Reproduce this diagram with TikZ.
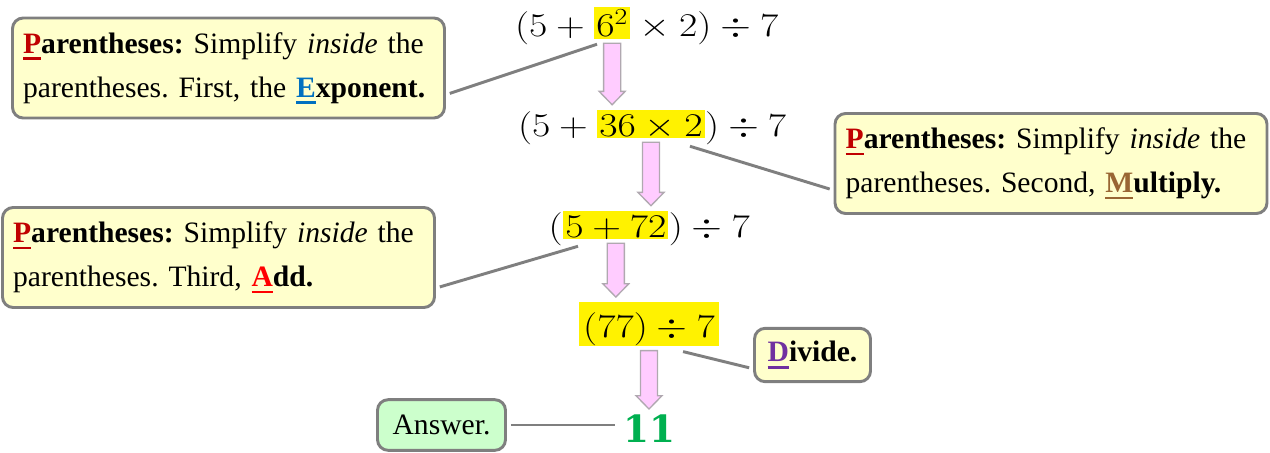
\documentclass[tikz,border=0pt]{standalone}
\usepackage[no-math]{fontspec}
\setmainfont{Liberation Serif}
\newfontfamily\numfont{DejaVu Serif}
\usepackage{graphicx}
\usepackage{tikz}
\usetikzlibrary{positioning,calc}

\definecolor{boxfill}{HTML}{FFFFCC}
\definecolor{ansfill}{HTML}{CCFFCC}
\definecolor{edge}{HTML}{7F7F7F}
\definecolor{pinkfill}{HTML}{FFCCFF}
\definecolor{pinkedge}{HTML}{B0A8B0}
\definecolor{pred}{HTML}{C00000}
\definecolor{eblue}{HTML}{0070C0}
\definecolor{mbrown}{HTML}{996633}
\definecolor{ared}{HTML}{FF0000}
\definecolor{dpurple}{HTML}{7030A0}
\definecolor{agreen}{HTML}{00B050}

% coloured, underlined first letter
\newcommand\capletter[2]{\textcolor{#1}{\setbox0\hbox{\textbf{#2}}\rlap{\rule[-5pt]{\wd0}{2pt}}\box0}}
\newcommand\wide[1]{\scalebox{1.2}[1]{#1}}
\frenchspacing

\begin{document}
\begin{tikzpicture}[
    x=0.75pt, y=-0.75pt,
    callout/.style={rectangle, draw=edge, line width=2.2pt, fill=boxfill, rounded corners=8pt, font=\fontsize{22.2}{33}\selectfont},
    note/.style={callout, align=left, text width=308pt, inner xsep=8pt, minimum width=324pt, minimum height=75pt},
    tag/.style={callout, inner sep=5pt, minimum width=87pt, minimum height=40pt},
    expr/.style={inner sep=0pt, font=\fontsize{27}{34}\selectfont},
    hl/.style={expr, fill=yellow, inner xsep=1.5pt, text height=19.5pt, text depth=1.5pt},
    link/.style={draw=edge, line width=2.2pt, shorten <=3pt},
    blockarrow/.style={draw=pinkedge, fill=pinkfill, line width=1pt}
]
\useasboundingbox (0,0) rectangle (1270,453);

% expressions
\node[hl, anchor=base west, text height=22.5pt] (hl1) at (594,37) {\wide{$6^2$}};
\node[expr, anchor=base east] (e1a) at (hl1.base west) {\wide{$(5+{}$}};
\node[expr, anchor=base west] (e1b) at (hl1.base east) {\wide{${}\times 2)\div 7$}};

\node[hl, anchor=base west] (hl2) at (597,136) {\wide{$36\times 2$}};
\node[expr, anchor=base east] (e2a) at (hl2.base west) {\wide{$(5+{}$}};
\node[expr, anchor=base west] (e2b) at (hl2.base east) {\wide{$)\div 7$}};

\node[hl, anchor=base west] (hl3) at (563,237) {\wide{$5+72$}};
\node[expr, anchor=base east] (e3a) at (hl3.base west) {\wide{$($}};
\node[expr, anchor=base west] (e3b) at (hl3.base east) {\wide{$)\div 7$}};

\node[expr, fill=yellow, inner xsep=3pt, text height=26pt, text depth=7pt, anchor=base] (e4) at (649,337) {\wide{$(77)\div 7$}};
\node[expr, text=agreen, font=\numfont\bfseries\fontsize{28}{34}\selectfont, anchor=base] (res) at (649,442) {11};

% pink arrows between steps
\foreach \a/\b in {hl1/hl2, hl2/hl3, hl3/e4, e4/res}
  \draw[blockarrow] let \p1=($(\a.south)+(0,4)$), \p2=($(\b.north)+(0,-5)$) in
    (\x1-6.4pt,\y1) -- (\x1+6.4pt,\y1) -- (\x1+6.4pt,\y2+10pt) -- (\x1+9.75pt,\y2+10pt)
    -- (\x1,\y2) -- (\x1-9.75pt,\y2+10pt) -- (\x1-6.4pt,\y2+10pt) -- cycle;

% call-outs
\node[note] (box1) at (228.5,68) {\capletter{pred}{P}\textbf{arentheses:} Simplify \textit{inside} the\\parentheses. First, the \capletter{eblue}{E}\textbf{xponent.}};
\node[note] (box2) at (1051,163.5) {\capletter{pred}{P}\textbf{arentheses:} Simplify \textit{inside} the\\parentheses. Second, \capletter{mbrown}{M}\textbf{ultiply.}};
\node[note] (box3) at (218.5,257.5) {\capletter{pred}{P}\textbf{arentheses:} Simplify \textit{inside} the\\parentheses. Third, \capletter{ared}{A}\textbf{dd.}};
\node[tag] (divbox) at (812.5,355) {\capletter{dpurple}{D}\textbf{ivide.}};
\node[tag, fill=ansfill, minimum width=96pt, minimum height=38pt] (answer) at (441.5,425) {Answer.};

\draw[link] (box1.-7) -- ($(hl1.south west)+(3,5)$);
\draw[link] (box2.187) -- ($(hl2.south east)+(-15,8)$);
\draw[link] (box3.-8) -- ($(hl3.south west)+(15,7)$);
\draw[link] (divbox.193) -- ($(e4.south east)+(-36,5)$);
\draw[link, shorten >=6pt] (answer.east) -- (answer.east -| res.west);
\end{tikzpicture}
\end{document}
